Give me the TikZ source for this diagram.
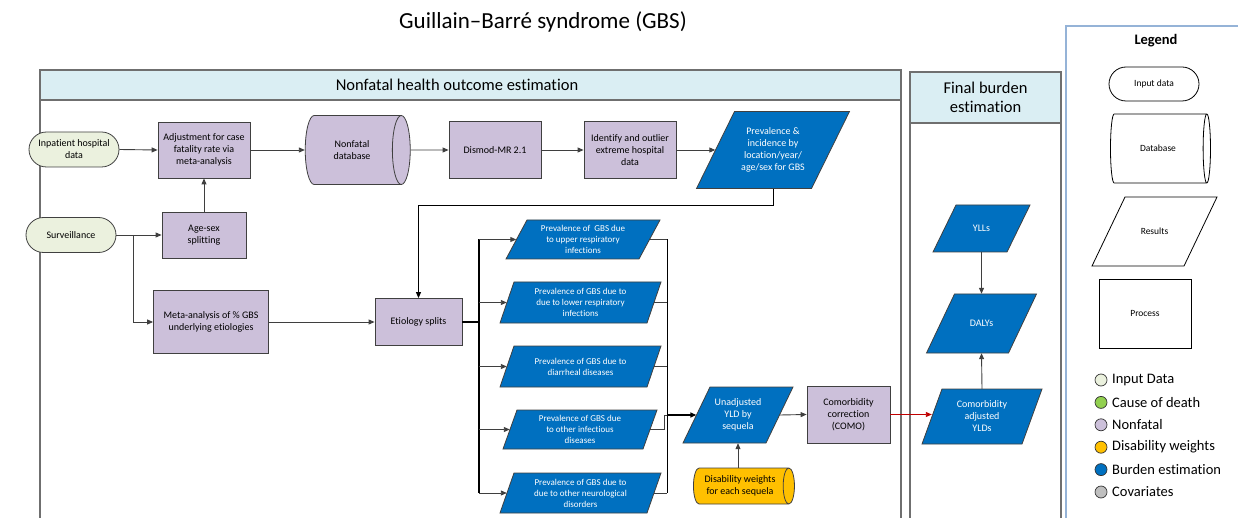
\documentclass[tikz,border=0pt]{standalone}
\usepackage{fontspec}
\setmainfont{Carlito}[Ligatures={NoCommon}]
\usetikzlibrary{shapes.geometric,shapes.misc,arrows.meta,calc}
\definecolor{inputc}{HTML}{EBF1DE}
\definecolor{nonfatalc}{HTML}{CCC0DA}
\definecolor{burdenc}{HTML}{0070C0}
\definecolor{dwc}{HTML}{FFC000}
\definecolor{causec}{HTML}{92D050}
\definecolor{covc}{HTML}{BFBFBF}
\definecolor{headc}{HTML}{DAEEF3}
\definecolor{boxline}{HTML}{404040}
\definecolor{linec}{HTML}{3F3F3F}
\definecolor{panelc}{HTML}{6F6F6F}
\definecolor{legc}{HTML}{95B3D7}
\definecolor{redc}{HTML}{D9534F}
\definecolor{redt}{HTML}{C00000}
\newcommand\fstitle{\fontsize{23}{27}\selectfont}
\newcommand\fshead{\fontsize{16.5}{18.5}\selectfont}
\newcommand\fsnode{\fontsize{10}{12}\selectfont}
\newcommand\fspara{\fontsize{9}{11}\selectfont}
\newcommand\fsleg{\fontsize{9.5}{11}\selectfont}
\newcommand\fslab{\fontsize{14.5}{16}\selectfont}
% parallelogram: name, cx, cy, edge, slant, height, text, style prefix
\newcommand\parab[8]{%
  \filldraw[#8 shape] (#2-#4/2-#5/2, #3+#6/2) -- (#2+#4/2-#5/2, #3+#6/2)
    -- (#2+#4/2+#5/2, #3-#6/2) -- (#2-#4/2+#5/2, #3-#6/2) -- cycle;
  \node[#8 text, minimum width=#4, minimum height=#6] (#1) at (#2,#3) {#7};}
\begin{document}
\begin{tikzpicture}[x=1pt,y=-1pt,
  box/.style={rectangle, draw=boxline, fill=nonfatalc, line width=0.8pt, align=center, inner sep=1pt, font=\fsnode},
  stad/.style={rounded rectangle, draw=boxline, fill=inputc, line width=0.8pt, align=center, inner sep=1pt, font=\fsnode},
  db/.style={cylinder, shape aspect=0.85, draw=boxline, fill=nonfatalc, line width=0.8pt, align=center, inner sep=1pt, font=\fsnode},
  pb shape/.style={draw=boxline, fill=burdenc, line width=0.8pt},
  pb text/.style={rectangle, inner sep=0pt, align=center, text=white, font=\fspara},
  pn shape/.style={draw=boxline, fill=burdenc, line width=0.8pt},
  pn text/.style={rectangle, inner sep=0pt, align=center, text=white, font=\fsnode},
  pw shape/.style={draw=black, fill=white, line width=0.8pt},
  pw text/.style={rectangle, inner sep=0pt, align=center, text=black, font=\fsleg},
  arr/.style={-{Triangle[length=6pt,width=5pt]}, line width=0.9pt, draw=linec},
  arrt/.style={-{Triangle[length=6pt,width=5pt]}, line width=1.4pt, draw=black},
  conn/.style={line width=0.9pt, draw=linec},
  panel/.style={draw=panelc, line width=1.2pt},
  legshape/.style={draw=black, fill=white, line width=0.8pt, align=center, inner sep=1pt, font=\fsleg},
  dot/.style={circle, draw=black!80, line width=0.7pt, minimum size=12pt, inner sep=0pt},
  leglab/.style={anchor=west, inner sep=0pt, font=\fslab}
]
\useasboundingbox (0,0) rectangle (1238,518);
\clip (0,0) rectangle (1238,518);

% title
\node[font=\fstitle] (title) at (543,22) {Guillain--Barré syndrome (GBS)};

% panels
\filldraw[panel, fill=headc] (40,70) rectangle (901,100);
\draw[panel] (40,100) rectangle (901,530);
\node[font=\fshead] (nfh) at (457,85) {Nonfatal health outcome estimation};
\filldraw[panel, fill=headc] (910,72) rectangle (1061,123);
\draw[panel] (910,123) rectangle (1061,530);
\node[font=\fshead, align=center] (fbh) at (985.5,97.5) {Final burden\\estimation};

% legend box
\draw[draw=legc, line width=1.2pt] (1066,530) -- (1066,26) -- (1240,26);
\node[font=\fontsize{14.5}{16}\selectfont\bfseries] (legt) at (1156,41) {Legend};

% row 1
\node[stad, minimum width=92pt, minimum height=35pt] (inp) at (74,149.5) {Inpatient hospital\\data};
\node[box, minimum width=92pt, minimum height=56pt] (adj) at (204,150) {Adjustment for case\\fatality rate via\\meta-analysis};
\node[db, minimum height=105pt, minimum width=69pt] (ndb) at (352,150) {Nonfatal\\database};
\node[box, minimum width=92pt, minimum height=57pt] (dis) at (495,150) {Dismod-MR 2.1};
\node[box, minimum width=92pt, minimum height=57pt] (idn) at (630,150) {Identify and outlier\\extreme hospital\\data};
\parab{prev}{773}{150}{115}{38}{77}{Prevalence \&\\incidence by\\location/year/\\age/sex for GBS}{pn}

% row 2
\node[stad, minimum width=92pt, minimum height=35pt] (sur) at (71,235) {Surveillance};
\node[box, minimum width=84pt, minimum height=46pt] (age) at (204,235) {Age-sex\\splitting};
\node[box, minimum width=115pt, minimum height=63pt] (meta) at (211,322) {Meta-analysis of \% GBS\\underlying etiologies};
\node[box, minimum width=87pt, minimum height=47pt] (eti) at (418.5,322) {Etiology splits};

% etiology parallelograms
\parab{P1}{583}{239.5}{133}{21}{39}{Prevalence of\ \ GBS due\\to upper respiratory\\infections}{pb}
\parab{P2}{580.5}{302.5}{147}{14}{41}{Prevalence of GBS due to\\due to lower respiratory\\infections}{pb}
\parab{P3}{580.5}{366.5}{147}{14}{41}{Prevalence of GBS due to\\diarrheal diseases}{pb}
\parab{P4}{580}{429.5}{140}{14}{39}{Prevalence of GBS due\\to other infectious\\diseases}{pb}
\parab{P5}{580.5}{493}{147}{14}{40}{Prevalence of GBS due to\\due to other neurological\\disorders}{pb}

% YLD part
\parab{unadj}{738}{415}{83}{27}{56}{Unadjusted\\YLD by\\sequela}{pn}
\node[box, minimum width=83pt, minimum height=57pt] (como) at (848.5,414.5) {Comorbidity\\correction\\(COMO)};
\node[db, fill=dwc, shape aspect=0.5, minimum height=101pt, minimum width=36pt] (dw) at (740,486) {Disability weights\\for each sequela};

% final burden
\parab{yll}{981.5}{228.5}{74}{23}{47}{YLLs}{pn}
\parab{daly}{981.5}{323.5}{82}{28}{59}{DALYs}{pn}
\parab{cay}{982}{416.5}{100}{20}{55}{Comorbidity\\adjusted\\YLDs}{pn}

% connectors row 1
\draw[arr] (inp.east) -- (adj.west);
\draw[arr] (adj.east) -- (ndb.west);
\draw[arr] (ndb.east) -- (dis.west);
\draw[arr] (dis.east) -- (idn.west);
\draw[arr] (idn.east) -- (prev.west);
\draw[arr, draw=black] (prev.south) -- ++(0,16.5) -| (eti.north);

% row 2
\coordinate (br) at (133,235);
\draw[arr] (sur.east) -- (age.west);
\draw[arr] (br) |- (meta.west);
\draw[arr] (age.north) -- (adj.south);
\draw[arr] (meta.east) -- (eti.west);

% etiology bus
\coordinate (lbus) at (479,322);
\draw[line width=1.6pt] (eti.east) -- (lbus);
\draw[line width=1.1pt] (lbus |- P1.west) -- (lbus |- P5.west);
\foreach \p in {P1,P2,P3,P4,P5}{\draw[arr] (lbus |- \p.west) -- (\p.west);}

% right bus
\coordinate (rbus) at (667,415);
\draw[conn, draw=black] (rbus |- P1.east) -- (rbus |- P5.east);
\foreach \p in {P1,P2,P3,P5}{\draw[conn] (\p.east) -- (rbus |- \p.east);}
\draw[conn] (P4.east) -- ++(14,0) |- (rbus);
\draw[arrt] (rbus) -- (unadj.west);

\draw[arr] (unadj.east) -- (como.west);
\draw[arr] (dw.north -| unadj.south) -- (unadj.south);
\draw[-{Triangle[length=6pt,width=5pt]}, line width=0.9pt, draw=redc, color=redt] (como.east) -- (como.east -| cay.west);
\draw[arr] (yll.south) -- (daly.north);
\draw[arr] (cay.north) -- (daly.south);

% legend shapes
\node[legshape, rounded rectangle, minimum width=92pt, minimum height=34pt] (lin) at (1154,84) {Input data};
\node[legshape, cylinder, shape aspect=0.85, minimum height=100pt, minimum width=69pt] (ldb) at (1158,148.5) {Database};
\parab{lres}{1154.5}{231.5}{92}{33}{69}{Results}{pw}
\node[legshape, rectangle, minimum width=92pt, minimum height=69pt] (lproc) at (1145,313.5) {Process};

% legend colours
\node[dot, fill=inputc] (c1) at (1101,380) {};
\node[dot, fill=causec] (c2) at (1101,402.4) {};
\node[dot, fill=nonfatalc] (c3) at (1101,424.8) {};
\node[dot, fill=dwc] (c4) at (1101,447.2) {};
\node[dot, fill=burdenc] (c5) at (1101,469.6) {};
\node[dot, fill=covc] (c6) at (1101,492) {};
\node[leglab] (l1) at (1112,380) {Input Data};
\node[leglab] (l2) at (1112,402.4) {Cause of death};
\node[leglab] (l3) at (1112,424.8) {Nonfatal};
\node[leglab] (l4) at (1112,447.2) {Disability weights};
\node[leglab] (l5) at (1112,469.6) {Burden estimation};
\node[leglab] (l6) at (1112,492) {Covariates};
\end{tikzpicture}
\end{document}
